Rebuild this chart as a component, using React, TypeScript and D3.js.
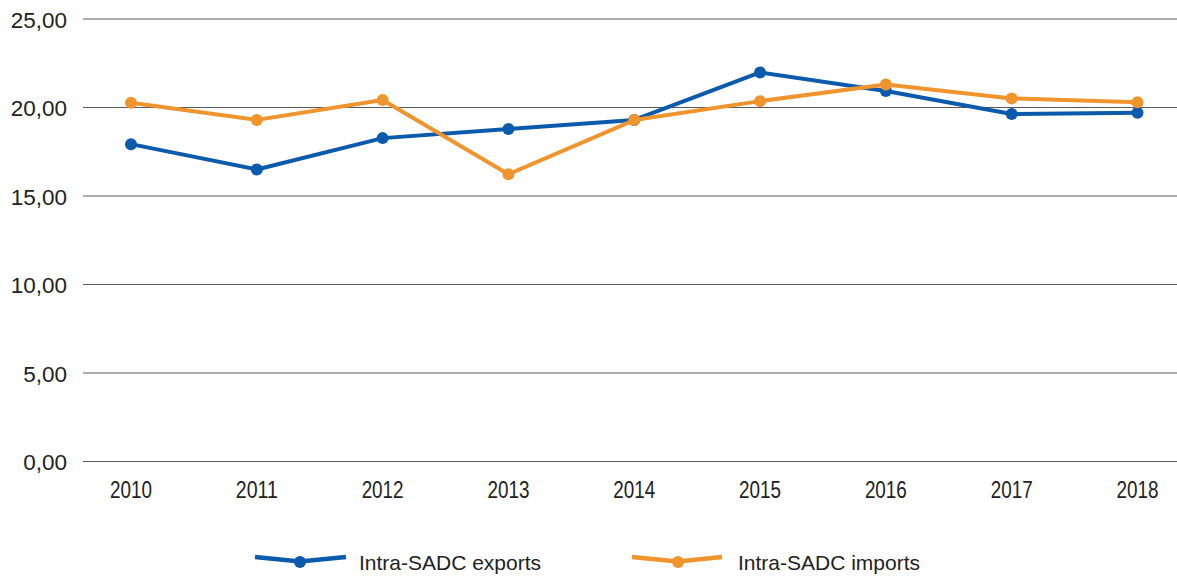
import React from "react";
import * as d3 from "d3";

const years = ["2010", "2011", "2012", "2013", "2014", "2015", "2016", "2017", "2018"];
const exportsSeries = [17.93, 16.5, 18.27, 18.78, 19.3, 21.98, 20.93, 19.63, 19.7];
const importsSeries = [20.27, 19.3, 20.42, 16.23, 19.29, 20.36, 21.3, 20.51, 20.3];
const yTicks = [0, 5, 10, 15, 20, 25];
const seriesNames = ["Intra-SADC exports", "Intra-SADC imports"];
const colors = ["#0b5aab", "#f0942e"];

const W = 1177;
const H = 577;

export default function App() {
  const x = d3.scalePoint<string>().domain(years).range([131, 1137.5]);
  const y = d3.scaleLinear().domain([0, 25]).range([461.5, 19]);
  const fmt = (v: number) => v.toFixed(2).replace(".", ",");
  const line = d3
    .line<number>()
    .x((_, i) => x(years[i]) as number)
    .y((d) => y(d));
  const series = [exportsSeries, importsSeries];
  const legend = [
    { x0: 255, xd: 300, x1: 346, tx: 359 },
    { x0: 632, xd: 678, x1: 722, tx: 738 },
  ];
  return (
    <svg
      width={W}
      height={H}
      style={{ position: "absolute", left: 0, top: 0, display: "block", background: "#fff" }}
    >
      {yTicks.map((t) => (
        <g key={t}>
          <line x1={83} x2={W} y1={y(t)} y2={y(t)} stroke="#5a5a5a" strokeWidth={1.2} />
          <text
            x={67}
            y={y(t) + 8.5}
            textAnchor="end"
            fontFamily="'Liberation Sans', Arial, sans-serif"
            fontSize={22.5}
            fill="#222"
          >
            {fmt(t)}
          </text>
        </g>
      ))}
      {years.map((yr) => (
        <text
          key={yr}
          x={x(yr)}
          y={498}
          textAnchor="middle"
          fontFamily="'Liberation Sans Narrow', 'Arial Narrow', 'Liberation Sans', sans-serif"
          fontSize={23}
          fill="#222"
          textLength={42}
          lengthAdjust="spacingAndGlyphs"
        >
          {yr}
        </text>
      ))}
      {series.map((s, si) => (
        <g key={si}>
          <path d={line(s) || ""} fill="none" stroke={colors[si]} strokeWidth={4} strokeLinejoin="round" />
          {s.map((v, i) => (
            <circle key={i} cx={x(years[i])} cy={y(v)} r={6} fill={colors[si]} />
          ))}
        </g>
      ))}
      {legend.map((l, i) => (
        <g key={i}>
          <polyline
            points={`${l.x0},557 ${l.xd},561.5 ${l.x1},557`}
            fill="none"
            stroke={colors[i]}
            strokeWidth={4.5}
          />
          <circle cx={l.xd} cy={562} r={6} fill={colors[i]} />
          <text
            x={l.tx}
            y={570}
            fontFamily="'Liberation Sans', Arial, sans-serif"
            fontSize={21}
            fill="#222"
          >
            {seriesNames[i]}
          </text>
        </g>
      ))}
    </svg>
  );
}
